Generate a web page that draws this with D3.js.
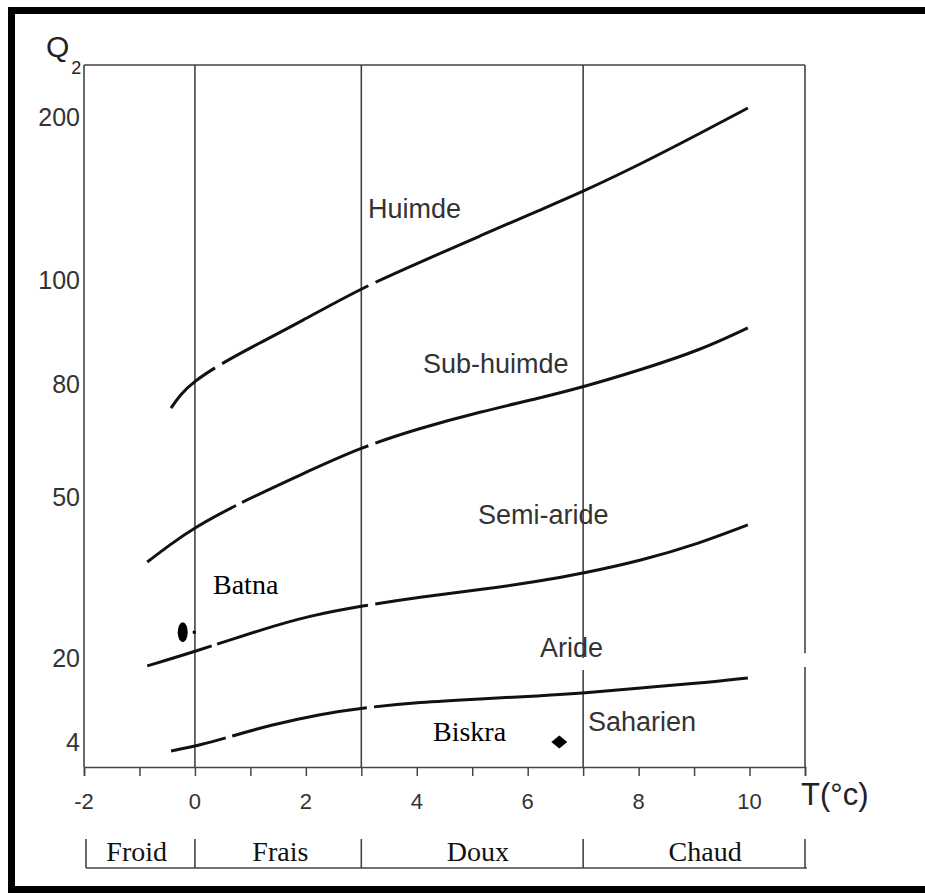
<!DOCTYPE html>
<html>
<head>
<meta charset="utf-8">
<script src="https://cdn.jsdelivr.net/npm/d3@7"></script>
<style>
  body { margin: 0; background: #fff; }
  svg { display: block; }
</style>
</head>
<body>
<div id="chart"></div>
<script>
// Emberger climagram: Q2 vs T (minimum temperature of the coldest month)

// Axis values
const xTickValues = [-2, -1, 0, 1, 2, 3, 4, 5, 6, 7, 8, 9, 10, 11];
const xLabelValues = [-2, 0, 2, 4, 6, 8, 10];
const yTickValues = [4, 20, 50, 80, 100, 200];

// Winter variants along the bottom
const winterNames = ["Froid", "Frais", "Doux", "Chaud"];
const winterBounds = [-2, 0, 3, 7, 11];
const winterLabelT = [-1.05, 1.54, 5.1, 9.2];

// Boundaries between bioclimatic stages (T, Q2)
const humideT = [-0.43, -0.27, -0.03, 0.45, 1.17, 1.89, 3.01, 4.06, 5.14, 6.22, 6.98, 8.03, 9.11, 9.97];
const humideQ = [73.6, 77.1, 80.4, 83.8, 87.9, 91.9, 98.5, 111, 127, 143, 154, 171, 190, 205.5];

const subHumideT = [-0.86, -0.45, -0.03, 0.81, 1.89, 3.01, 4.06, 5.14, 6.22, 7.0, 8.03, 9.11, 9.97];
const subHumideQ = [37.9, 41.1, 44.2, 48.9, 55.8, 63.3, 68.3, 72.6, 76.3, 79.2, 82.7, 86.5, 90.8];

const semiArideT = [-0.86, -0.03, 1.17, 2.07, 3.01, 4.06, 5.14, 6.22, 7.0, 8.03, 9.11, 9.97];
const semiArideQ = [18.5, 21.1, 25.2, 27.9, 29.7, 31.4, 32.7, 34.3, 35.8, 38.1, 41.4, 44.8];

const arideT = [-0.43, 0.09, 0.63, 1.35, 2.26, 3.01, 4.06, 5.14, 6.22, 7.0, 8.03, 9.11, 9.97];
const arideQ = [2.3, 3.4, 5.0, 7.2, 9.3, 10.5, 11.6, 12.2, 12.8, 13.3, 14.3, 15.2, 16.2];

// small breaks drawn in each boundary (T ranges)
const humideGaps = [[0.36, 0.49], [3.12, 3.25]];
const subHumideGaps = [[0.74, 0.85], [3.12, 3.25]];
const semiArideGaps = [[0.30, 0.40], [3.12, 3.25]];
const arideGaps = [[0.56, 0.67], [3.10, 3.23]];

// Stage names
const stageNames = ["Huimde", "Sub-huimde", "Semi-aride", "Aride", "Saharien"];

// Stations
const stationNames = ["Batna", "Biskra"];
const stationT = [-0.22, 6.57];
const stationQ = [24.8, 4.0];

// ---- layout ----
const W = 925, H = 893;
const PLOT_TOP = 65, PLOT_BOTTOM = 767;
const SANS = "'Liberation Sans', Arial, sans-serif";
const SERIF = "'Liberation Serif', 'Times New Roman', serif";

const svg = d3.select('#chart').append('svg')
  .attr('width', W).attr('height', H)
  .attr('viewBox', `0 0 ${W} ${H}`);

const x = d3.scaleLinear().domain([-2, 11]).range([84, 805]);
// hand-drawn, non-uniform Q2 axis
const y = d3.scaleLinear().domain(yTickValues).range([742, 658, 497, 384, 280, 117]);

// Outer frame (left, top, bottom)
const frame = svg.append('g').attr('stroke', '#000').attr('stroke-width', 7);
frame.append('line').attr('x1', 11.5).attr('y1', 7).attr('x2', 11.5).attr('y2', 893);
frame.append('line').attr('x1', 8).attr('y1', 10.5).attr('x2', 925).attr('y2', 10.5);
frame.append('line').attr('x1', 8).attr('y1', 889.5).attr('x2', 925).attr('y2', 889.5);

// Plot box
const grid = svg.append('g').attr('stroke', '#444').attr('stroke-width', 1.6).attr('fill', 'none');
grid.append('line').attr('x1', x(-2)).attr('y1', PLOT_TOP).attr('x2', x(-2)).attr('y2', PLOT_BOTTOM);
grid.append('line').attr('x1', x(-2)).attr('y1', PLOT_TOP).attr('x2', x(11)).attr('y2', PLOT_TOP);

// vertical lines with an optional break (Q range)
function vline(t, gapQ) {
  const ln = grid.append('line')
    .attr('x1', x(t)).attr('y1', PLOT_TOP)
    .attr('x2', x(t)).attr('y2', PLOT_BOTTOM);
  if (gapQ) {
    const a = y(gapQ[1]) - PLOT_TOP, b = y(gapQ[0]) - y(gapQ[1]);
    ln.attr('stroke-dasharray', `${a} ${b} ${PLOT_BOTTOM}`);
  }
}
vline(0);
vline(3);
vline(7, [17.7, 20]);
vline(11, [18.3, 20.9]);

// X axis
const xAxis = svg.append('g').attr('transform', `translate(0,${PLOT_BOTTOM})`)
  .call(d3.axisBottom(x).tickValues(xTickValues).tickSize(9).tickFormat(''));
xAxis.select('.domain').attr('stroke', '#444').attr('stroke-width', 1.6);
xAxis.selectAll('.tick line').attr('stroke', '#444').attr('stroke-width', 1.5);

svg.append('g').selectAll('text').data(xLabelValues).enter().append('text')
  .attr('x', d => x(d)).attr('y', 809)
  .attr('text-anchor', 'middle')
  .attr('font-family', SANS).attr('font-size', 22).attr('fill', '#333')
  .text(d => d);

svg.append('text')
  .attr('x', 801).attr('y', 805)
  .attr('font-family', SANS).attr('font-size', 31).attr('fill', '#222')
  .text('T(°c)');

// Y labels (no ticks)
svg.append('g').selectAll('text').data(yTickValues).enter().append('text')
  .attr('x', 80).attr('y', d => y(d) + 9)
  .attr('text-anchor', 'end')
  .attr('font-family', SANS).attr('font-size', 25).attr('fill', '#333')
  .text(d => d);

const q = svg.append('text')
  .attr('x', 46).attr('y', 57)
  .attr('font-family', SANS).attr('font-size', 30).attr('fill', '#222');
q.append('tspan').text('Q');
q.append('tspan').attr('dx', 2).attr('dy', 17).attr('font-size', 18).text('2');

// Winter variant brackets
const brk = svg.append('g').attr('stroke', '#444').attr('stroke-width', 1.6);
brk.append('line').attr('x1', x(winterBounds[0]) + 2).attr('x2', x(winterBounds[4]) + 2)
  .attr('y1', 868).attr('y2', 868);
brk.selectAll('.b').data(winterBounds).enter().append('line')
  .attr('x1', (d, i) => x(d) + (i === 0 ? 2 : 0))
  .attr('x2', (d, i) => x(d) + (i === 0 ? 2 : 0))
  .attr('y1', 839).attr('y2', 868);

svg.append('g').selectAll('text').data(winterNames).enter().append('text')
  .attr('x', (d, i) => x(winterLabelT[i])).attr('y', 861)
  .attr('text-anchor', 'middle')
  .attr('font-family', SERIF).attr('font-size', 28).attr('fill', '#111')
  .text(d => d);

// Boundary curves
const line = d3.line().x(d => x(d[0])).y(d => y(d[1])).curve(d3.curveBasis);

function gapDash(node, gaps) {
  const total = node.getTotalLength();
  const arr = [];
  let pos = 0;
  gaps.forEach(([t0, t1]) => {
    const x0 = x(t0), x1 = x(t1);
    let a = null, b = null;
    for (let l = 0; l <= total; l += 0.25) {
      const p = node.getPointAtLength(l);
      if (a === null && p.x >= x0) a = l;
      if (b === null && p.x >= x1) { b = l; break; }
    }
    arr.push(a - pos, b - a);
    pos = b;
  });
  arr.push(total - pos + 2, 0);
  return arr.join(' ');
}

const curves = [
  [humideT, humideQ, humideGaps],
  [subHumideT, subHumideQ, subHumideGaps],
  [semiArideT, semiArideQ, semiArideGaps],
  [arideT, arideQ, arideGaps]
];
const curveG = svg.append('g');
curves.forEach(([ts, qs, gaps]) => {
  const p = curveG.append('path')
    .datum(ts.map((t, i) => [t, qs[i]]))
    .attr('d', line)
    .attr('fill', 'none')
    .attr('stroke', '#111')
    .attr('stroke-width', 3);
  p.attr('stroke-dasharray', gapDash(p.node(), gaps));
});

// Stage labels
const stagePos = [[368, 218], [423, 373], [478, 524], [540, 657], [588, 731]];
svg.append('g').selectAll('text').data(stageNames).enter().append('text')
  .attr('x', (d, i) => stagePos[i][0]).attr('y', (d, i) => stagePos[i][1])
  .attr('font-family', SANS).attr('font-size', 27).attr('fill', '#333')
  .text(d => d);

// Stations
const st = svg.append('g');
// Batna: vertical ellipse with a small dot to its right
st.append('ellipse')
  .attr('cx', x(stationT[0])).attr('cy', y(stationQ[0]))
  .attr('rx', 5).attr('ry', 10).attr('fill', '#000');
st.append('rect')
  .attr('x', x(stationT[0]) + 10).attr('y', y(stationQ[0]) - 1.5)
  .attr('width', 3).attr('height', 3).attr('fill', '#000');
// Biskra: diamond
st.append('path')
  .attr('transform', `translate(${x(stationT[1])},${y(stationQ[1])})`)
  .attr('d', 'M-8,0L0,-6.5L8,0L0,6.5Z')
  .attr('fill', '#000');

const stationLabelPos = [[213, 594], [433, 741]];
svg.append('g').selectAll('text').data(stationNames).enter().append('text')
  .attr('x', (d, i) => stationLabelPos[i][0]).attr('y', (d, i) => stationLabelPos[i][1])
  .attr('font-family', SERIF).attr('font-size', 28).attr('fill', '#000')
  .text(d => d);
</script>
</body>
</html>
